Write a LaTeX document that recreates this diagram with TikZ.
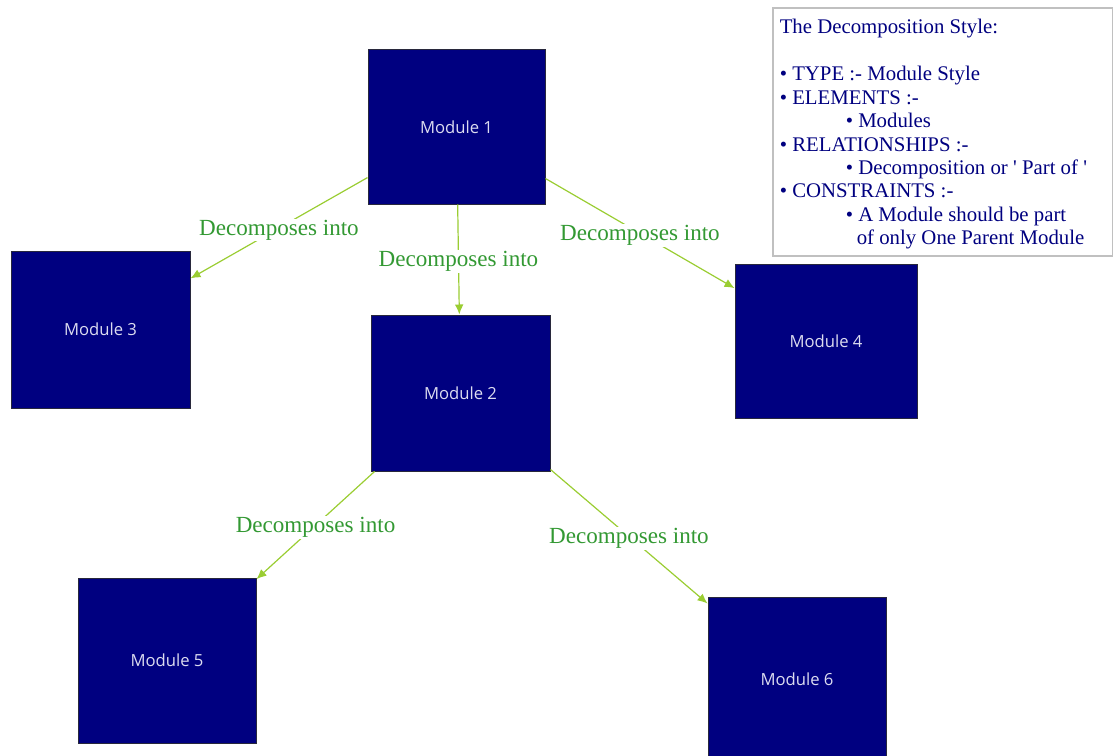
\documentclass[tikz,border=0pt]{standalone}
\usepackage{fontspec}
\setmainfont{Liberation Serif}
\newfontfamily\modfont{Open Sans}
\newfontfamily\legendfont[Ligatures=TeXOff]{Liberation Serif}
\usetikzlibrary{arrows.meta}
\definecolor{modnavy}{RGB}{0,0,128}
\definecolor{modborder}{RGB}{40,40,60}
\definecolor{modedge}{RGB}{154,205,50}
\definecolor{lblgreen}{RGB}{51,153,51}
\definecolor{modtext}{RGB}{220,220,240}
\definecolor{legendgray}{RGB}{192,192,192}
\definecolor{legendtext}{RGB}{0,0,128}
\begin{document}
\begin{tikzpicture}[x=0.75pt,y=-0.75pt,
  module/.style={draw=modborder, line width=0.75pt, fill=modnavy, text=modtext,
    font=\modfont\fontsize{12.5}{15}\selectfont, inner sep=0pt},
  decomp/.style={draw=modedge, line width=0.9pt, -{Latex[length=7.5pt,width=6.5pt]}},
  decomplabel/.style={fill=white, text=lblgreen, font=\fontsize{17.3}{20}\selectfont,
    inner sep=1pt, midway, yshift=-1.5pt},
  legendbox/.style={draw=legendgray, line width=1.5pt, fill=white, inner sep=0pt},
  legendtxt/.style={text=legendtext, align=left, inner sep=0pt,
    font=\legendfont\fontsize{15.6}{17.6}\selectfont}
]
\useasboundingbox (0,0) rectangle (1113,756);
\begin{scope}
\clip (0,0) rectangle (1113,756);

% modules
\node[module, minimum width=132.75pt, minimum height=115.5pt] (m1) at (456.5,127) {Module 1};
\node[module, minimum width=134.25pt, minimum height=117.75pt] (m3) at (100.5,329.5) {Module 3};
\node[module, minimum width=134.25pt, minimum height=117pt] (m2) at (460.5,393) {Module 2};
\node[module, minimum width=136.5pt, minimum height=115.5pt] (m4) at (826,341) {Module 4};
\node[module, minimum width=133.5pt, minimum height=123.75pt] (m5) at (167,660.5) {Module 5};
\node[module, minimum width=133.5pt, minimum height=123.75pt] (m6) at (797,679.5) {Module 6};

% decomposition relations
\draw[decomp] (m1) -- node[decomplabel] (l13) {Decomposes into} (m3);
\draw[decomp] (m1) -- node[decomplabel] (l12) {Decomposes into} (m2);
\draw[decomp] (m1) -- node[decomplabel] (l14) {Decomposes into} (m4);
\draw[decomp] (m2) -- node[decomplabel] (l25) {Decomposes into} (m5);
\draw[decomp] (m2) -- node[decomplabel] (l26) {Decomposes into} (m6);

% legend
\node[legendbox, anchor=north west, minimum width=255pt, minimum height=186pt] (legend) at (772,7) {};
\node[legendtxt, anchor=north west] (legendbody) at (779.5,19) {%
The Decomposition Style:\\
~\\
• TYPE :- Module Style\\
• ELEMENTS :-\\
\hspace*{49.5pt}• Modules\\
• RELATIONSHIPS :-\\
\hspace*{49.5pt}• Decomposition or ' Part of '\\
• CONSTRAINTS :-\\
\hspace*{49.5pt}• A Module should be part\\
\hspace*{57.75pt}of only One Parent Module};
\end{scope}
\end{tikzpicture}
\end{document}
